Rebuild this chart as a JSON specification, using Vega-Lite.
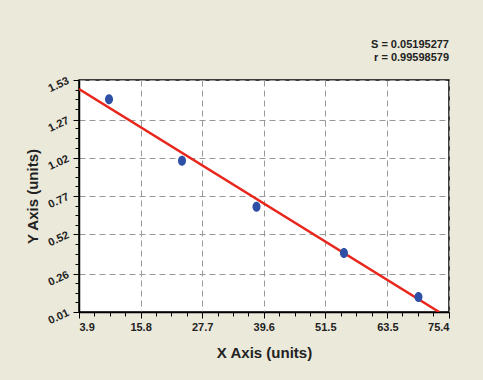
{
  "$schema": "https://vega.github.io/schema/vega-lite/v6.json",
  "width": 370,
  "height": 232,
  "autosize": {"type": "none"},
  "padding": {"left": 79, "top": 80, "right": 34, "bottom": 68},
  "background": "#ebe9da",
  "config": {
    "view": {"stroke": "#000000", "strokeWidth": 1.5, "fill": "#ffffff"},
    "font": "Liberation Sans"
  },
  "title": {
    "text": "S = 0.05195277",
    "subtitle": "r = 0.99598579",
    "anchor": "end",
    "frame": "group",
    "fontSize": 11,
    "fontWeight": "bold",
    "color": "#222222",
    "subtitleFontSize": 11,
    "subtitleFontWeight": "bold",
    "subtitleColor": "#222222",
    "subtitlePadding": 2,
    "offset": 12
  },
  "datasets": {
    "points": [
      {"x": 9.7, "y": 1.404},
      {"x": 23.8, "y": 1.001},
      {"x": 38.2, "y": 0.700},
      {"x": 55.1, "y": 0.397},
      {"x": 69.5, "y": 0.108}
    ],
    "fit": [
      {"x": 3.9, "y": 1.471},
      {"x": 73.5, "y": 0.01}
    ]
  },
  "resolve": {"axis": {"x": "independent", "y": "independent"}},
  "layer": [
    {
      "data": {"name": "fit"},
      "mark": {"type": "line", "color": "#e8261c", "strokeWidth": 2.5, "clip": true},
      "encoding": {
        "x": {
          "field": "x", "type": "quantitative",
          "scale": {"domain": [3.9, 75.4], "nice": false, "zero": false},
          "axis": {
            "orient": "bottom",
            "values": [6.879, 9.858, 12.838, 18.779, 21.758, 24.738, 30.679, 33.658, 36.638, 42.579, 45.558, 48.538, 54.479, 57.458, 60.438, 66.379, 69.358, 72.338],
            "labels": false, "grid": false, "domain": false, "title": null,
            "tickSize": 4, "tickColor": "#000000", "tickWidth": 1
          }
        },
        "y": {
          "field": "y", "type": "quantitative",
          "scale": {"domain": [0.01, 1.53], "nice": false, "zero": false},
          "axis": {
            "orient": "left",
            "values": [0.0733, 0.1367, 0.2, 0.3267, 0.39, 0.4533, 0.58, 0.6433, 0.7067, 0.8333, 0.8967, 0.96, 1.0867, 1.15, 1.2133, 1.34, 1.4033, 1.4667],
            "labels": false, "grid": false, "domain": false, "title": null,
            "tickSize": 4, "tickColor": "#000000", "tickWidth": 1
          }
        }
      }
    },
    {
      "data": {"name": "points"},
      "mark": {"type": "point", "shape": "M-0.8,0A0.8,1 0 1,0 0.8,0A0.8,1 0 1,0 -0.8,0Z", "filled": true, "color": "#2d4fa6", "opacity": 1, "size": 100},
      "encoding": {
        "x": {
          "field": "x", "type": "quantitative",
          "scale": {"domain": [3.9, 75.4], "nice": false, "zero": false},
          "axis": {
            "orient": "bottom",
            "values": [3.9, 15.8, 27.7, 39.6, 51.5, 63.5, 75.4],
            "labelExpr": "datum.value == 63.5 ? '63.5' : format(datum.value, '.1f')",
            "title": "X Axis (units)",
            "titleFontSize": 15, "titleFontWeight": "bold", "titleColor": "#222222",
            "titlePadding": 13,
            "labelFontSize": 11, "labelFontWeight": "bold", "labelColor": "#222222",
            "labelPadding": 3,
            "tickSize": 6, "tickColor": "#000000", "tickWidth": 1,
            "domainColor": "#000000", "domainWidth": 1.5,
            "grid": true, "gridColor": "#999999", "gridDash": [6, 4], "gridWidth": 1
          }
        },
        "y": {
          "field": "y", "type": "quantitative",
          "scale": {"domain": [0.01, 1.53], "nice": false, "zero": false},
          "axis": {
            "orient": "left",
            "values": [0.01, 0.26, 0.52, 0.77, 1.02, 1.27, 1.53],
            "format": ".2f",
            "title": "Y Axis (units)",
            "titleFontSize": 15, "titleFontWeight": "bold", "titleColor": "#222222",
            "titlePadding": 6,
            "labelFontSize": 11, "labelFontWeight": "bold", "labelColor": "#222222",
            "labelAngle": -25, "labelAlign": "right", "labelBaseline": "middle",
            "labelPadding": 5,
            "tickSize": 6, "tickColor": "#000000", "tickWidth": 1,
            "domainColor": "#000000", "domainWidth": 1.5,
            "grid": true, "gridColor": "#999999", "gridDash": [6, 4], "gridWidth": 1
          }
        }
      }
    }
  ]
}
